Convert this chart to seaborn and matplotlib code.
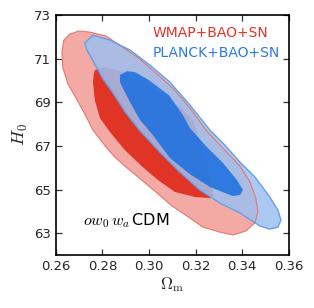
import matplotlib
matplotlib.use('Agg')
import matplotlib.pyplot as plt
import seaborn as sns

# ── Contour outlines (Omega_m, H0) ────────────────────────────────────────────
wmap_95_om = [0.2660, 0.2699, 0.2746, 0.2815, 0.2956, 0.3102, 0.3175, 0.3248,
              0.3325, 0.3390, 0.3433, 0.3458, 0.3467, 0.3454, 0.3415, 0.3360,
              0.3304, 0.3231, 0.3175, 0.3098, 0.3029, 0.2952, 0.2896, 0.2853,
              0.2815, 0.2759, 0.2720, 0.2686, 0.2652, 0.2630, 0.2626, 0.2634]
wmap_95_h0 = [72.13, 72.27, 72.22, 72.04, 71.03, 69.65, 68.74, 67.68,
              66.81, 66.08, 65.35, 64.61, 63.97, 63.47, 63.10, 62.92,
              63.05, 63.28, 63.70, 64.25, 64.89, 65.58, 66.08, 66.49,
              66.95, 67.73, 68.55, 69.20, 69.84, 70.57, 71.30, 71.85]

wmap_68_om = [0.2767, 0.2810, 0.2875, 0.2961, 0.3046, 0.3132, 0.3188, 0.3218,
              0.3248, 0.3265, 0.3278, 0.3261, 0.3197, 0.3111, 0.3038, 0.2973,
              0.2896, 0.2832, 0.2789, 0.2767, 0.2759, 0.2763]
wmap_68_h0 = [70.48, 70.62, 70.43, 70.02, 69.47, 68.78, 68.19, 67.27,
              66.35, 65.44, 64.75, 64.61, 64.66, 64.89, 65.44, 66.03,
              66.81, 67.64, 68.28, 69.10, 69.93, 70.30]

planck_95_om = [0.2759, 0.2832, 0.2918, 0.3003, 0.3089, 0.3175, 0.3261, 0.3325,
                0.3390, 0.3454, 0.3518, 0.3553, 0.3566, 0.3553, 0.3518, 0.3476,
                0.3390, 0.3304, 0.3218, 0.3132, 0.3046, 0.2958, 0.2898, 0.2848,
                0.2800, 0.2762, 0.2733, 0.2724]
planck_95_h0 = [72.08, 71.85, 71.40, 70.71, 69.93, 68.88, 67.73, 67.04,
                66.26, 65.58, 64.66, 64.06, 63.60, 63.28, 63.19, 63.33,
                63.93, 64.38, 64.98, 65.80, 66.72, 67.73, 68.55, 69.38,
                70.11, 70.85, 71.40, 71.72]

planck_68_om = [0.2875, 0.2905, 0.2939, 0.2999, 0.3085, 0.3145, 0.3175, 0.3248,
                0.3317, 0.3377, 0.3403, 0.3390, 0.3360, 0.3261, 0.3175, 0.3089,
                0.3016, 0.2961, 0.2930, 0.2896, 0.2875]
planck_68_h0 = [70.25, 70.43, 70.39, 70.02, 69.33, 68.42, 67.82, 66.95,
                66.22, 65.44, 64.98, 64.75, 64.70, 65.12, 65.71, 66.45,
                67.50, 68.19, 68.78, 69.47, 69.93]

xticks = [0.26, 0.28, 0.30, 0.32, 0.34, 0.36]
yticks = [63, 65, 67, 69, 71, 73]
labels = ['WMAP+BAO+SN', 'PLANCK+BAO+SN']

# ── Style ──────────────────────────────────────────────────────────────────────
sns.set_style('ticks', {'xtick.direction': 'in', 'ytick.direction': 'in'})
plt.rcParams['mathtext.fontset'] = 'cm'
plt.rcParams['font.family'] = ['DejaVu Sans']

red_light  = '#f3aaa5'
red_dark   = '#e03426'
red_edge   = '#e8766c'
blue_light = '#9dc0f0'
blue_dark  = '#1a6fe0'
blue_edge  = '#64a0ea'

fig, ax = plt.subplots(figsize=(3.14, 3.08), dpi=100)
fig.subplots_adjust(left=0.178, right=0.920, top=0.951, bottom=0.172)

# WMAP contours (opaque), then Planck on top with some transparency
ax.fill(wmap_95_om, wmap_95_h0, color=red_light, lw=0, zorder=1)
ax.fill(wmap_68_om, wmap_68_h0, color=red_dark, lw=0, zorder=2)
ax.fill(planck_95_om, planck_95_h0, color=blue_light, alpha=0.85, lw=0, zorder=3)
ax.fill(planck_68_om, planck_68_h0, color=blue_dark, alpha=0.85, lw=0, zorder=4)
ax.fill(wmap_95_om, wmap_95_h0, fill=False, ec=red_edge, lw=0.8, zorder=5)
ax.fill(planck_95_om, planck_95_h0, fill=False, ec=blue_edge, lw=1.0, zorder=5)

ax.set_xlim(0.26, 0.36)
ax.set_ylim(62, 73)
ax.set_xticks(xticks)
ax.set_xticklabels([f'{t:.2f}' for t in xticks])
ax.set_yticks(yticks)
ax.tick_params(axis='both', which='both', direction='in', top=True, right=True,
               length=4, width=0.9, labelsize=9.5, color='#333333')
for sp in ax.spines.values():
    sp.set_linewidth(1.2)
    sp.set_color('black')

ax.set_xlabel(r'$\Omega_{\rm m}$', fontsize=12, labelpad=2)
ax.set_ylabel(r'$H_0$', fontsize=13, labelpad=3)

ax.text(0.416, 0.925, labels[0], color='#e3342a', fontsize=10,
        transform=ax.transAxes, va='center', ha='left')
ax.text(0.416, 0.842, labels[1], color='#2a7ae2', fontsize=10,
        transform=ax.transAxes, va='center', ha='left')
ax.text(0.116, 0.125, r'$ow_0\,w_a\,$CDM', color='black', fontsize=11.5,
        transform=ax.transAxes, va='baseline', ha='left')

plt.savefig('out.png', dpi=100)
plt.close()
